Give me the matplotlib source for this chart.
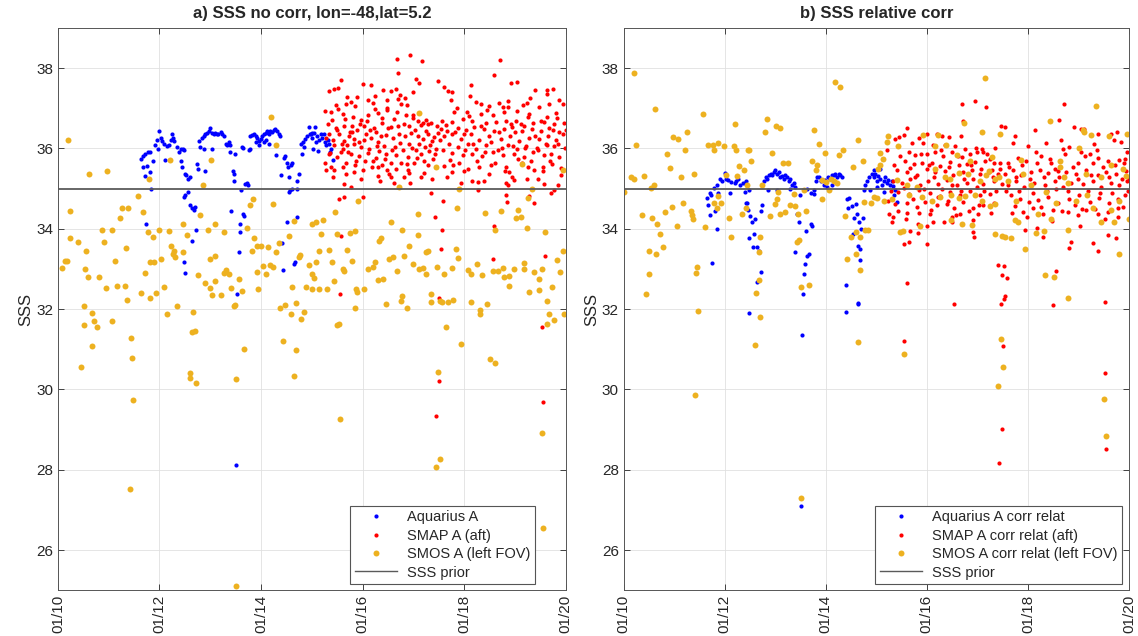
import pandas as pd
import matplotlib
matplotlib.use('Agg')
import matplotlib.pyplot as plt
import matplotlib.dates as mdates
from matplotlib.lines import Line2D

# (decimal year, SSS)
# ---- panel a) no corr
aquarius_a = [
    (2011.64,35.74),(2011.67,35.81),(2011.72,35.86),(2011.78,35.90),(2011.82,35.92),(2011.67,35.53),(2011.76,35.56),
    (2011.71,35.32),(2011.81,35.41),(2011.88,35.70),(2011.84,34.98),(2011.74,34.12),(2011.92,36.08),(2011.95,36.21),
    (2012.00,36.44),(2012.02,36.26),(2012.05,36.19),(2012.09,36.12),(2012.14,36.05),(2012.18,36.08),(2012.25,36.35),
    (2012.26,36.26),(2012.29,36.19),(2012.22,36.21),(2012.11,35.72),(2012.35,36.04),(2012.39,35.90),(2012.43,35.99),
    (2012.48,35.97),(2011.98,35.99),(2012.43,35.68),(2012.45,35.54),(2012.50,35.36),(2012.49,34.80),(2012.48,33.18),
    (2012.47,35.99),(2012.52,35.35),(2012.57,35.23),(2012.60,35.28),(2012.57,34.92),(2012.50,34.83),(2012.59,34.59),
    (2012.64,34.52),(2012.67,34.47),(2012.70,34.53),(2012.71,33.96),(2012.64,33.70),(2012.50,32.91),(2012.74,35.62),
    (2012.75,35.48),(2012.90,35.44),(2012.77,36.19),(2012.84,36.26),(2012.87,36.30),(2012.90,36.35),(2012.93,36.39),
    (2012.97,36.44),(2013.00,36.50),(2013.03,36.39),(2013.07,36.35),(2013.10,36.39),(2013.13,36.35),(2013.16,36.37),
    (2013.20,36.42),(2013.23,36.37),(2013.26,36.30),(2013.30,36.12),(2013.33,36.08),(2013.36,36.17),(2013.39,36.08),
    (2013.04,35.99),(2012.88,35.99),(2012.79,36.04),(2013.38,35.92),(2013.49,35.86),(2013.45,35.43),(2013.46,35.37),
    (2013.47,35.19),(2013.69,35.12),(2013.72,35.14),(2013.74,35.10),(2013.61,34.96),(2013.41,34.44),(2013.64,34.38),
    (2013.67,34.32),(2013.59,34.13),(2013.58,33.92),(2013.56,33.42),(2013.53,32.38),(2013.51,28.12),(2013.62,36.03),
    (2013.65,36.01),(2013.76,35.95),(2013.78,35.99),(2013.79,36.30),(2013.82,36.33),(2013.86,36.37),(2013.89,36.30),
    (2013.92,36.26),(2013.95,36.19),(2013.99,36.24),(2014.02,36.30),(2014.05,36.35),(2014.09,36.39),(2014.12,36.44),
    (2014.15,36.37),(2014.18,36.44),(2014.22,36.42),(2014.25,36.46),(2014.28,36.48),(2014.32,36.44),(2014.35,36.35),
    (2014.38,36.30),(2013.89,36.17),(2014.05,36.15),(2014.15,36.12),(2014.09,36.21),(2013.95,36.08),(2014.30,35.83),
    (2014.45,35.77),(2014.48,35.81),(2014.51,35.63),(2014.58,35.59),(2014.61,35.63),(2014.40,35.35),(2014.55,35.29),
    (2014.53,35.53),(2014.57,34.96),(2014.61,35.00),(2014.55,34.92),(2014.71,35.19),(2014.74,35.37),(2014.71,34.99),
    (2014.51,34.18),(2014.70,34.29),(2014.41,33.64),(2014.66,33.18),(2014.64,33.13),(2014.43,32.97),(2014.78,36.12),
    (2014.83,36.17),(2014.86,36.24),(2014.91,36.30),(2014.94,36.53),(2015.01,36.39),(2014.84,36.04),(2014.81,35.87),
    (2014.96,36.35),(2014.98,36.35),(2015.01,36.26),(2015.05,36.39),(2015.06,36.53),(2015.08,36.17),(2015.11,36.30),
    (2015.15,36.21),(2015.18,36.35),(2015.21,36.26),(2015.24,36.37),(2015.26,36.17),(2015.28,36.08),(2015.31,36.21),
    (2015.34,36.12),(2015.38,35.99),(2015.36,35.90),(2015.41,35.72),(2015.12,35.94),(2015.03,35.99),
]

smap_a = [
    (2016.68,38.24),(2016.94,38.33),(2017.16,38.18),(2016.70,37.88),(2017.05,37.73),(2017.12,37.63),(2017.49,37.67),
    (2015.57,37.71),(2015.44,37.49),(2015.34,37.44),(2015.51,37.51),(2016.00,37.60),(2016.16,37.58),(2016.41,37.46),
    (2016.56,37.44),(2016.66,37.49),(2016.74,37.33),(2015.69,37.29),(2015.90,37.27),(2016.10,37.20),(2016.20,37.13),
    (2015.67,37.11),(2015.47,37.08),(2015.77,37.16),(2016.49,37.20),(2016.70,37.24),(2016.84,37.26),(2016.76,37.11),
    (2016.88,37.08),(2015.26,36.93),(2015.38,36.90),(2015.61,36.86),(2015.82,36.79),(2015.97,36.71),(2016.11,36.84),
    (2016.30,36.88),(2016.49,36.96),(2016.68,36.92),(2016.86,36.83),(2016.99,36.75),(2017.09,36.69),(2017.25,36.72),
    (2017.28,36.62),(2017.18,36.63),(2016.70,36.57),(2016.56,36.54),(2016.39,36.63),(2016.23,36.51),(2016.03,36.57),
    (2015.90,36.46),(2015.76,36.42),(2015.63,36.57),(2015.47,36.51),(2015.34,36.37),(2015.28,36.26),(2015.41,36.21),
    (2015.54,36.35),(2015.64,36.19),(2015.74,36.30),(2015.84,36.24),(2015.93,36.17),(2016.07,36.35),(2016.16,36.26),
    (2016.26,36.41),(2016.36,36.30),(2016.46,36.33),(2016.59,36.26),(2016.72,36.37),(2016.84,36.31),(2016.95,36.39),
    (2017.09,36.30),(2017.18,36.24),(2017.28,36.35),(2017.40,36.28),(2017.48,36.39),(2015.44,36.08),(2015.61,35.99),
    (2015.70,36.08),(2015.84,36.10),(2015.97,36.04),(2016.13,35.99),(2016.30,36.15),(2016.43,36.06),(2016.63,36.04),
    (2016.79,35.97),(2016.92,36.10),(2017.05,35.95),(2017.22,36.04),(2017.32,36.08),(2017.45,35.99),(2015.57,35.90),
    (2015.77,35.86),(2015.93,35.81),(2016.10,35.88),(2016.26,35.77),(2016.46,35.86),(2016.66,35.83),(2016.89,35.79),
    (2017.15,35.86),(2017.38,35.74),(2015.26,35.63),(2015.38,35.54),(2015.67,35.65),(2015.87,35.68),(2016.20,35.68),
    (2016.39,35.59),(2016.56,35.65),(2016.76,35.63),(2017.02,35.63),(2017.28,35.59),(2015.28,35.46),(2015.44,35.47),
    (2015.67,35.37),(2015.84,35.41),(2016.00,35.46),(2016.30,35.54),(2016.49,35.46),(2016.89,35.46),(2016.52,35.37),
    (2015.64,35.12),(2015.77,35.05),(2015.97,35.23),(2016.30,35.32),(2016.56,35.29),(2016.92,35.38),(2016.94,35.13),
    (2017.15,35.28),(2015.54,34.75),(2015.64,34.80),(2016.00,34.80),(2017.35,34.90),(2015.58,33.82),(2015.56,32.37),
    (2017.44,29.34),(2017.51,30.20),(2017.43,34.29),(2017.57,33.97),(2017.55,33.50),(2017.50,32.27),(2018.58,34.08),
    (2018.56,33.25),(2019.59,33.32),(2019.54,31.55),(2019.56,29.68),
    (2015.31,36.62),(2015.36,35.88),(2015.40,36.70),(2015.49,35.78),(2015.52,36.98),(2015.59,36.12),(2015.66,36.74),
    (2015.72,35.92),(2015.79,36.55),(2015.86,35.60),(2015.95,36.60),(2016.02,36.20),(2016.05,35.70),(2016.14,36.47),
    (2016.18,35.55),(2016.24,36.99),(2016.28,36.05),(2016.33,35.93),(2016.38,36.77),(2016.44,35.73),(2016.51,36.50),
    (2016.58,35.97),(2016.61,36.73),(2016.65,35.50),(2016.74,36.14),(2016.81,36.62),(2016.87,35.62),(2016.91,36.55),
    (2016.97,36.02),(2017.00,36.83),(2017.04,36.45),(2017.07,35.77),(2017.11,36.12),(2017.14,36.58),(2017.20,35.70),
    (2017.24,36.44),(2017.30,35.93),(2017.34,36.63),(2017.37,36.18),(2017.42,35.85),(2017.46,36.55),(2015.33,35.85),
    (2015.42,35.30),(2015.50,36.46),(2015.62,35.55),(2015.80,36.42),(2016.08,36.68),(2016.35,35.20),(2016.62,35.15),
    (2016.82,35.30),(2017.20,35.40),(2017.36,35.25),(2016.48,37.00),(2015.85,37.05),(2017.00,37.40),(2016.25,37.30),
    (2018.71,38.20),(2018.59,37.84),(2018.14,37.58),(2018.92,37.63),(2019.04,37.66),(2017.61,37.54),(2017.69,37.44),
    (2017.76,37.40),(2019.40,37.45),(2019.63,37.46),(2019.76,37.49),(2017.74,37.20),(2018.24,37.15),(2018.34,37.11),
    (2018.69,37.13),(2018.76,37.04),(2018.87,37.18),(2018.86,37.02),(2019.16,37.08),(2019.23,37.13),(2019.48,37.04),
    (2019.64,37.35),(2019.68,37.11),(2019.82,36.88),(2019.95,37.11),(2017.80,36.90),(2018.05,36.92),(2018.33,36.86),
    (2018.56,36.84),(2018.79,36.90),(2019.05,36.94),(2019.25,36.79),(2019.64,36.79),(2019.84,36.77),(2017.57,36.69),
    (2017.77,36.66),(2017.97,36.73),(2018.16,36.69),(2018.43,36.63),(2018.63,36.66),(2018.82,36.69),(2019.02,36.69),
    (2019.18,36.57),(2019.36,36.63),(2019.58,36.66),(2019.78,36.62),(2019.97,36.63),(2017.54,36.48),(2017.67,36.44),
    (2017.87,36.51),(2018.03,36.46),(2018.20,36.53),(2018.39,36.48),(2018.59,36.44),(2018.79,36.48),(2018.95,36.53),
    (2019.15,36.44),(2019.34,36.48),(2019.51,36.44),(2019.68,36.51),(2019.88,36.42),(2020.00,36.46),(2017.60,36.30),
    (2017.77,36.35),(2017.93,36.24),(2018.13,36.35),(2018.30,36.21),(2018.49,36.30),(2018.72,36.24),(2018.90,36.30),
    (2019.09,36.19),(2019.28,36.26),(2019.48,36.24),(2019.61,36.12),(2019.81,36.21),(2019.95,36.35),(2017.70,36.10),
    (2017.87,36.04),(2018.07,36.12),(2018.23,35.99),(2018.43,36.08),(2018.66,35.95),(2018.86,36.08),(2019.05,35.99),
    (2019.22,36.06),(2019.43,36.01),(2019.64,36.08),(2019.78,36.06),(2017.77,35.88),(2017.97,35.83),(2018.16,35.86),
    (2018.36,35.81),(2018.56,35.90),(2018.76,35.83),(2018.99,35.86),(2019.18,35.79),(2019.35,35.90),(2019.58,35.83),
    (2019.71,35.86),(2019.88,35.79),(2017.61,35.56),(2017.78,35.59),(2018.07,35.50),(2018.30,35.54),(2018.53,35.59),
    (2018.82,35.54),(2019.15,35.63),(2019.25,35.54),(2019.55,35.53),(2019.74,35.62),(2019.91,35.52),(2017.77,35.41),
    (2018.00,35.44),(2018.49,35.37),(2018.89,35.41),(2019.38,35.47),(2017.93,35.13),(2018.16,35.19),(2018.28,35.17),
    (2018.82,35.14),(2018.86,35.10),(2018.99,35.21),(2019.23,35.23),(2019.58,35.12),(2019.78,34.96),(2018.28,34.96),
    (2018.82,34.85),(2018.84,34.67),(2019.38,34.63),(2019.28,34.81),(2019.72,34.90),(2017.59,34.70),
    (2017.52,36.20),(2017.58,35.95),(2017.64,36.58),(2017.72,35.72),(2017.82,36.40),(2017.90,35.65),(2017.99,36.35),
    (2018.02,35.95),(2018.10,36.80),(2018.18,36.10),(2018.26,35.70),(2018.33,36.55),(2018.41,35.90),(2018.46,36.95),
    (2018.52,36.15),(2018.61,35.65),(2018.68,36.40),(2018.74,36.02),(2018.80,35.45),(2018.92,36.62),(2018.97,36.05),
    (2019.01,36.40),(2019.07,35.75),(2019.12,36.60),(2019.20,36.00),(2019.27,36.85),(2019.31,35.68),(2019.40,36.30),
    (2019.46,35.95),(2019.52,36.68),(2019.56,35.45),(2019.66,36.32),(2019.70,35.70),(2019.75,36.45),(2019.85,36.10),
    (2019.90,35.35),(2019.98,36.00),(2017.66,35.30),(2018.40,35.20),(2018.95,35.30),(2019.45,35.25),(2019.85,35.10),
    (2018.12,37.30),(2019.30,37.25),(2019.88,37.20),(2017.85,37.00),(2018.50,37.05),
]

smos_a = [
    (2010.20,36.21),(2010.61,35.36),(2010.97,35.44),(2010.24,34.45),(2011.26,34.52),(2011.38,34.52),(2011.57,34.81),
    (2011.22,34.27),(2011.68,34.41),(2010.86,33.98),(2011.07,33.97),(2010.23,33.76),(2010.39,33.67),(2010.91,33.67),
    (2010.56,33.45),(2011.33,33.53),(2011.77,33.93),(2011.87,33.79),(2011.99,33.97),(2012.18,33.95),(2012.23,33.58),
    (2010.13,33.21),(2010.18,33.21),(2010.08,33.02),(2010.54,33.00),(2010.59,32.79),(2010.80,32.79),(2011.12,33.21),
    (2011.82,33.17),(2011.89,33.17),(2011.72,32.89),(2012.03,33.25),(2012.28,33.45),(2012.26,33.38),(2012.30,33.29),
    (2010.95,32.52),(2011.16,32.57),(2011.32,32.57),(2011.36,32.22),(2011.63,32.40),(2011.82,32.27),(2011.93,32.40),
    (2012.08,32.55),(2011.79,35.23),(2012.20,35.72),
    (2013.01,35.71),(2012.86,35.08),(2014.20,36.79),(2014.30,36.08),(2014.24,34.61),(2012.80,34.34),(2012.47,34.12),
    (2012.54,33.85),(2012.47,33.42),(2012.95,33.98),(2013.10,34.12),(2013.26,33.92),(2013.84,34.74),(2013.78,34.58),
    (2013.72,34.03),(2013.87,33.76),(2013.83,33.45),(2013.92,33.56),(2014.00,33.58),(2014.14,33.54),(2014.29,33.43),
    (2014.35,33.64),(2012.99,33.24),(2013.09,33.33),(2013.26,32.91),(2013.30,32.97),(2013.36,32.87),(2013.57,32.75),
    (2012.75,32.85),(2012.89,32.66),(2012.99,32.53),(2013.10,32.71),(2013.04,32.36),(2013.20,32.35),(2013.41,32.53),
    (2013.63,32.44),(2013.92,32.93),(2014.09,32.87),(2014.03,33.07),(2014.17,33.11),(2014.24,33.04),(2013.93,32.49),
    (2014.65,34.19),(2014.55,33.82),(2014.74,33.29),(2014.77,33.34),(2014.94,33.11),(2014.89,32.55),(2015.00,32.50),
    (2015.01,32.87),(2014.60,32.54),
    (2017.12,36.88),(2017.45,35.54),(2016.72,35.04),(2015.91,34.68),(2015.45,34.41),(2015.08,34.16),(2015.01,34.12),
    (2015.23,34.22),(2016.56,34.18),(2017.09,34.37),(2015.19,33.87),(2015.49,33.87),(2015.76,33.89),(2015.86,33.94),
    (2016.36,33.78),(2016.33,33.70),(2016.77,33.96),(2017.10,33.85),(2016.92,33.56),(2017.28,33.45),(2017.25,33.42),
    (2015.15,33.45),(2015.34,33.47),(2015.70,33.46),(2015.08,33.17),(2015.39,33.17),(2015.64,32.95),(2015.61,33.00),
    (2015.80,33.21),(2016.10,33.00),(2016.25,33.18),(2016.20,33.06),(2016.53,33.25),(2016.59,33.29),(2016.68,32.96),
    (2016.82,33.32),(2016.99,33.13),(2017.12,33.00),(2017.18,33.02),(2017.25,32.87),(2017.47,33.04),(2015.05,32.78),
    (2015.15,32.51),(2015.30,32.51),(2015.44,32.70),(2015.87,32.51),(2015.90,32.42),(2016.03,32.49),(2016.30,32.73),
    (2016.41,32.76),(2016.77,32.32),(2017.34,32.38),
    (2017.90,35.00),(2017.85,34.52),(2018.41,34.40),(2018.72,34.45),(2019.03,34.28),(2019.12,34.29),(2019.07,34.48),
    (2019.34,35.00),(2019.25,34.77),(2019.95,35.47),(2019.14,35.62),(2018.61,33.98),(2019.23,34.01),(2019.60,33.92),
    (2019.94,33.45),(2019.84,33.22),(2017.84,33.49),(2017.88,33.27),(2017.77,33.03),(2017.61,32.88),(2018.07,32.97),
    (2018.13,32.87),(2018.26,33.13),(2018.36,32.85),(2018.56,32.94),(2018.66,32.94),(2018.76,33.03),(2018.79,32.80),
    (2018.99,33.00),(2018.89,32.83),(2018.88,32.58),(2019.18,33.15),(2019.18,33.00),(2019.28,32.42),(2019.38,32.92),
    (2019.47,32.47),(2019.48,32.74),(2019.53,33.00),(2019.74,32.56),(2019.89,32.92),
    # lower values
    (2010.46,30.55),(2010.51,31.61),(2010.51,32.07),(2010.66,31.90),(2010.71,31.70),(2010.76,31.56),(2010.66,31.07),
    (2011.06,31.70),(2011.43,31.29),(2011.46,30.77),(2011.48,29.74),(2011.41,27.52),(2012.14,31.88),(2012.34,32.07),
    (2012.66,31.93),(2012.64,31.42),(2012.69,31.45),(2012.59,30.42),(2012.60,30.29),(2012.71,30.17),(2013.46,32.08),
    (2013.48,32.10),(2013.50,30.25),(2013.51,25.10),(2013.66,31.00),(2014.38,32.02),(2014.48,32.10),(2014.58,31.88),
    (2014.69,32.15),(2014.79,31.75),(2014.84,31.92),(2014.44,31.20),(2014.69,30.97),(2014.65,30.33),(2015.50,31.60),
    (2015.54,31.63),(2015.56,29.26),(2015.86,32.02),(2016.47,32.13),(2016.76,32.20),(2016.88,32.02),(2017.34,32.18),
    (2017.52,32.20),(2017.56,32.18),(2017.69,32.18),(2017.79,32.22),(2017.64,31.55),(2017.94,31.12),(2017.49,30.43),
    (2017.53,28.26),(2017.44,28.07),(2018.14,32.18),(2018.31,31.87),(2018.32,31.97),(2018.46,32.13),(2018.51,30.76),
    (2018.61,30.65),(2019.53,28.92),(2019.56,26.54),(2019.64,31.64),(2019.68,31.89),(2019.78,31.72),(2019.63,32.20),
    (2019.97,31.88),
]

# ---- panel b) relative corr
aquarius_b = [
    (2012.00,35.40),(2011.90,35.24),(2011.95,35.19),(2012.03,35.24),(2012.07,35.21),(2012.13,35.17),(2012.20,35.15),
    (2012.23,35.19),(2012.26,35.24),(2012.30,35.10),(2012.36,35.15),(2012.43,35.19),(2011.84,35.10),(2011.78,35.01),
    (2011.71,34.88),(2011.66,34.76),(2011.74,34.83),(2011.87,34.90),(2011.67,34.58),(2011.80,34.45),(2011.71,34.34),
    (2011.85,34.00),(2011.75,33.15),(2012.10,34.88),(2012.43,34.65),(2012.41,34.92),(2012.45,34.65),(2012.47,34.47),
    (2012.51,34.31),(2012.55,34.16),(2012.49,33.78),(2012.58,33.87),(2012.56,33.55),(2012.64,33.54),(2012.68,33.45),
    (2012.71,32.93),(2012.64,32.67),(2012.60,34.24),(2012.73,34.58),(2012.71,34.45),(2012.48,34.96),(2012.41,35.14),
    (2012.78,35.19),(2012.81,35.28),(2012.84,35.24),(2012.88,35.33),(2012.91,35.37),(2012.94,35.35),(2012.97,35.41),
    (2013.00,35.46),(2013.04,35.37),(2013.07,35.41),(2013.10,35.30),(2013.14,35.32),(2013.17,35.24),(2013.20,35.35),
    (2013.24,35.28),(2013.27,35.19),(2013.30,35.24),(2013.34,35.10),(2013.37,35.14),(2013.40,35.05),(2012.86,34.96),
    (2013.04,34.96),(2013.30,34.99),(2013.48,34.83),(2013.43,34.38),(2013.47,34.16),(2013.60,33.94),(2013.70,34.12),
    (2013.73,34.08),(2013.66,33.36),(2013.63,33.32),(2013.40,33.41),(2013.59,33.12),(2013.57,32.88),(2013.55,32.38),
    (2013.63,35.00),(2013.70,34.89),(2013.76,34.96),(2013.80,35.19),(2013.83,35.28),(2013.86,35.30),(2013.91,35.19),
    (2013.96,35.10),(2013.99,35.21),(2014.05,35.28),(2014.09,35.24),(2014.13,35.33),(2014.16,35.35),(2014.19,35.37),
    (2014.22,35.28),(2014.26,35.37),(2014.29,35.35),(2014.32,35.28),(2014.13,35.10),(2014.03,35.05),(2013.76,34.87),
    (2014.42,34.74),(2014.47,34.76),(2014.45,34.52),(2014.52,34.57),(2014.59,34.62),(2014.55,34.26),(2014.62,34.38),
    (2014.73,34.28),(2014.65,34.17),(2014.70,33.99),(2014.60,33.93),(2014.53,33.88),(2014.64,33.57),(2014.68,33.50),
    (2014.68,33.23),(2014.41,32.61),(2014.78,35.10),(2014.81,35.19),(2014.86,35.28),(2014.91,35.37),(2014.95,35.46),
    (2014.88,34.96),(2014.75,34.96),(2012.48,31.90),(2013.52,31.35),(2013.50,27.09),(2014.41,31.94),(2014.63,32.12),
    (2014.64,32.16),(2014.95,35.28),(2014.98,35.37),(2015.01,35.19),(2015.04,35.32),(2015.08,35.24),(2015.11,35.10),
    (2015.15,35.19),(2015.18,35.28),(2015.21,35.14),(2015.24,35.21),(2015.28,35.10),(2015.31,35.19),(2015.34,35.06),
    (2015.38,34.96),(2015.41,34.67),(2015.36,34.83),(2015.08,35.50),(2015.15,34.92),(2015.01,35.03),
]

smap_b = [
    (2016.69,37.11),(2016.95,37.18),(2017.17,37.04),(2015.61,36.52),(2015.54,36.33),(2015.38,36.24),(2015.46,36.28),
    (2016.01,36.37),(2016.20,36.37),(2016.43,36.28),(2016.67,36.30),(2016.71,36.68),(2017.09,35.99),(2017.25,35.75),
    (2016.97,36.01),(2017.28,35.46),(2015.70,36.14),(2015.93,36.13),(2016.13,36.08),(2016.36,36.08),(2016.56,36.06),
    (2016.76,35.99),(2015.21,35.95),(2015.64,35.90),(2015.77,35.84),(2016.00,35.86),(2016.16,35.92),(2016.33,35.81),
    (2016.49,35.92),(2016.69,35.79),(2016.86,35.86),(2017.12,35.90),(2015.57,35.68),(2015.74,35.61),(2015.90,35.65),
    (2016.10,35.63),(2016.26,35.57),(2016.46,35.66),(2016.63,35.59),(2016.79,35.61),(2016.95,35.67),(2017.15,35.68),
    (2017.32,35.63),(2017.45,35.65),(2015.41,35.46),(2015.61,35.41),(2015.80,35.35),(2016.00,35.48),(2016.16,35.41),
    (2016.36,35.44),(2016.52,35.35),(2016.72,35.41),(2016.89,35.47),(2017.05,35.37),(2017.22,35.42),(2017.41,35.36),
    (2015.34,35.19),(2015.51,35.15),(2015.67,35.23),(2015.87,35.10),(2016.03,35.19),(2016.23,35.12),(2016.39,35.21),
    (2016.59,35.08),(2016.79,35.14),(2016.92,35.24),(2017.12,35.12),(2017.32,35.19),(2017.48,35.12),(2015.44,34.92),
    (2015.64,34.87),(2015.84,34.96),(2016.07,34.90),(2016.26,34.81),(2016.46,34.92),(2016.66,34.85),(2016.86,34.93),
    (2017.05,34.83),(2017.25,34.87),(2015.24,34.70),(2015.38,34.61),(2015.61,34.65),(2015.80,34.55),(2015.97,34.66),
    (2016.20,34.59),(2016.39,34.61),(2016.53,34.51),(2016.72,34.67),(2016.92,34.52),(2017.12,34.58),(2017.32,34.63),
    (2015.26,34.38),(2015.34,34.29),(2015.31,34.16),(2015.61,34.40),(2016.07,34.37),(2016.34,34.16),(2016.49,34.29),
    (2016.66,34.38),(2016.92,34.21),(2017.02,34.38),(2015.67,33.94),(2015.82,34.13),(2016.00,34.07),(2016.12,34.16),
    (2015.82,33.90),(2015.64,33.68),(2015.54,33.61),(2016.00,33.62),(2016.49,34.16),(2016.94,33.80),(2016.92,33.93),
    (2017.41,33.09),(2015.60,32.65),(2015.54,31.20),(2016.53,32.13),(2017.47,32.12),(2017.52,32.26),(2017.51,31.09),
    (2017.49,29.02),(2017.42,28.17),(2018.50,32.09),(2019.52,32.17),(2019.52,30.40),(2019.54,28.51),
    (2015.29,34.95),(2015.36,35.58),(2015.43,34.45),(2015.48,35.80),(2015.55,35.02),(2015.59,34.25),(2015.66,35.52),
    (2015.72,34.75),(2015.76,35.30),(2015.85,34.40),(2015.89,35.85),(2015.95,34.98),(2016.04,35.60),(2016.09,34.48),
    (2016.14,35.30),(2016.22,34.80),(2016.28,35.95),(2016.31,35.00),(2016.41,34.70),(2016.44,35.55),(2016.50,35.10),
    (2016.57,34.35),(2016.61,35.80),(2016.68,34.95),(2016.74,35.25),(2016.83,34.45),(2016.88,35.60),(2016.99,35.05),
    (2017.03,34.60),(2017.08,35.50),(2017.14,34.95),(2017.19,35.85),(2017.27,34.40),(2017.30,35.30),(2017.37,34.95),
    (2017.44,35.50),(2016.30,36.30),(2015.85,36.25),(2017.35,36.00),(2017.00,35.90),
    (2018.72,37.11),(2018.61,36.72),(2018.15,36.46),(2018.92,36.53),(2019.05,36.48),(2019.12,36.48),(2019.39,36.35),
    (2019.64,36.35),(2019.76,36.40),(2019.70,36.21),(2019.96,35.90),(2017.74,36.30),(2017.71,36.13),(2017.54,36.53),
    (2017.47,36.57),(2018.16,35.90),(2018.36,36.13),(2018.46,35.63),(2018.69,35.99),(2018.82,36.04),(2019.05,35.90),
    (2019.22,35.86),(2019.38,35.77),(2019.58,35.68),(2019.81,35.72),(2019.91,35.63),(2017.61,35.63),(2017.80,35.77),
    (2017.97,35.70),(2018.26,35.81),(2018.53,35.50),(2018.99,35.63),(2019.28,35.65),(2017.54,35.37),(2017.70,35.46),
    (2017.87,35.33),(2018.07,35.41),(2018.23,35.47),(2018.39,35.39),(2018.59,35.44),(2018.76,35.41),(2018.95,35.36),
    (2019.15,35.46),(2019.38,35.35),(2019.55,35.42),(2019.74,35.37),(2019.94,35.45),(2020.00,35.23),(2017.61,35.10),
    (2017.77,35.19),(2017.93,35.04),(2018.13,35.14),(2018.33,35.09),(2018.53,35.20),(2018.69,35.05),(2018.86,35.14),
    (2019.09,35.11),(2019.28,35.19),(2019.45,35.04),(2019.64,35.14),(2019.81,35.10),(2019.97,35.19),(2017.67,34.83),
    (2017.84,34.74),(2018.03,34.67),(2018.20,34.71),(2018.39,34.79),(2018.59,34.65),(2018.82,34.74),(2019.02,34.83),
    (2019.22,34.67),(2019.41,34.76),(2019.61,34.63),(2019.78,34.74),(2019.92,34.83),(2017.74,34.56),(2017.90,34.43),
    (2018.10,34.52),(2018.30,34.38),(2018.49,34.47),(2018.79,34.43),(2018.99,34.34),(2019.15,34.47),(2019.38,34.38),
    (2019.58,34.43),(2019.78,34.52),(2017.95,33.98),(2018.18,34.03),(2018.30,33.80),(2018.86,33.67),(2018.82,33.51),
    (2019.28,33.65),(2019.38,33.45),(2019.58,33.85),(2019.74,33.76),(2019.04,34.07),(2017.58,32.78),(2017.55,32.33),
    (2018.56,32.95),(2017.52,33.08),(2017.49,32.84),
    (2017.56,34.95),(2017.63,35.55),(2017.69,34.40),(2017.76,35.30),(2017.82,34.95),(2017.89,35.60),(2017.99,34.30),
    (2018.05,35.25),(2018.11,34.90),(2018.19,35.65),(2018.25,34.55),(2018.31,35.30),(2018.37,34.95),(2018.43,35.75),
    (2018.47,34.20),(2018.55,35.00),(2018.62,35.30),(2018.67,34.45),(2018.73,35.85),(2018.80,34.95),(2018.89,35.55),
    (2018.93,34.60),(2019.00,35.25),(2019.07,34.50),(2019.13,35.80),(2019.19,34.95),(2019.25,35.35),(2019.32,34.50),
    (2019.36,35.95),(2019.43,34.90),(2019.49,35.55),(2019.53,34.25),(2019.60,35.30),(2019.67,34.90),(2019.72,35.60),
    (2019.79,34.30),(2019.86,35.25),(2019.89,34.55),(2019.93,35.75),(2019.99,34.95),(2018.00,36.05),(2018.65,36.20),
    (2019.30,36.10),(2019.85,36.15),
]

smos_b = [
    (2010.20,37.88),(2010.62,36.99),(2011.57,36.86),(2012.20,36.60),(2011.26,36.41),(2010.98,36.29),(2011.08,36.24),
    (2010.24,36.08),(2011.67,36.08),(2011.77,36.08),(2011.86,36.13),(2011.99,36.06),(2012.18,36.05),(2012.23,35.95),
    (2011.21,35.96),(2010.86,35.86),(2011.78,35.95),(2012.46,35.95),(2010.91,35.52),(2012.28,35.57),(2012.39,35.46),
    (2010.14,35.28),(2010.20,35.25),(2010.41,35.32),(2011.13,35.30),(2011.39,35.37),(2012.03,35.34),(2012.25,35.32),
    (2010.55,35.01),(2010.61,35.08),(2010.01,34.92),(2011.18,34.65),(2010.96,34.55),(2010.82,34.43),(2010.57,34.28),
    (2010.36,34.34),(2010.66,34.12),(2010.72,33.88),(2011.06,34.08),(2011.33,34.45),(2011.36,34.34),(2011.38,34.25),
    (2011.62,34.05),(2011.87,34.81),(2011.78,34.65),(2011.93,34.65),(2011.84,34.52),(2012.09,34.28),(2012.13,33.80),
    (2012.34,34.37),(2012.43,34.52),(2010.77,33.55),(2010.50,33.45),(2010.65,33.36),(2010.50,32.88),(2010.45,32.38),
    (2011.46,33.06),(2011.43,32.91),
    (2014.19,37.66),(2014.29,37.53),(2012.84,36.73),(2012.80,36.41),(2013.01,36.57),(2013.09,36.50),(2013.76,36.46),
    (2013.86,36.10),(2013.98,35.88),(2014.34,35.97),(2014.27,35.83),(2014.63,36.22),(2014.73,35.70),(2012.49,35.96),
    (2012.53,35.70),(2012.94,35.88),(2013.16,35.63),(2013.26,35.63),(2013.72,35.70),(2013.83,35.59),(2013.81,35.46),
    (2014.53,35.53),(2012.45,35.10),(2012.74,35.10),(2013.06,34.92),(2013.04,34.74),(2012.99,34.61),(2012.89,34.32),
    (2013.10,34.38),(2013.20,34.43),(2013.30,34.59),(2013.40,34.56),(2013.45,34.38),(2013.61,34.45),(2013.57,34.96),
    (2013.37,34.87),(2013.93,34.74),(2013.92,35.21),(2014.01,35.17),(2014.11,35.24),(2014.22,35.14),(2014.16,35.19),
    (2014.07,34.96),(2014.39,34.31),(2014.49,33.79),(2014.59,33.91),(2014.68,33.79),(2014.75,34.67),(2014.90,34.63),
    (2014.95,34.79),(2014.78,33.98),(2014.84,33.98),(2012.70,33.79),(2012.67,33.42),(2012.67,32.73),(2012.61,32.40),
    (2013.43,33.67),(2013.47,33.71),(2014.59,33.36),(2014.68,32.98),(2014.43,33.24),(2013.50,32.55),(2013.66,32.61),
    (2011.47,31.95),(2011.41,29.87),(2012.60,31.11),(2012.69,31.81),(2013.51,27.29),(2014.63,31.18),(2015.54,30.89),
    (2017.47,31.26),(2017.51,30.55),(2017.41,30.09),(2018.80,32.27),(2019.51,29.76),(2019.54,28.83),
    (2017.15,37.76),(2016.74,36.63),(2017.09,36.41),(2017.45,36.37),(2016.23,36.33),(2015.92,36.33),(2015.24,36.30),
    (2015.21,36.17),(2015.08,35.88),(2015.13,35.75),(2015.44,36.06),(2016.16,36.06),(2016.38,36.08),(2016.59,35.84),
    (2016.86,35.68),(2017.28,35.79),(2017.22,35.43),(2017.18,35.34),(2015.07,35.59),(2015.03,35.50),(2015.41,35.21),
    (2015.61,35.10),(2015.80,35.05),(2016.16,35.50),(2016.36,35.28),(2016.45,35.23),(2016.64,35.38),(2016.82,35.37),
    (2017.05,35.19),(2017.35,35.23),(2017.43,35.28),(2015.01,34.76),(2015.16,34.70),(2015.31,34.74),(2015.64,34.83),
    (2015.90,34.79),(2016.10,34.70),(2016.26,34.79),(2016.47,34.85),(2016.63,34.76),(2016.76,34.81),(2016.95,34.83),
    (2017.09,34.70),(2017.25,34.56),(2017.35,34.61),(2015.53,33.94),(2015.47,33.91),(2015.87,34.07),(2016.47,34.22),
    (2016.69,34.12),(2016.89,34.09),(2017.35,33.87),(2017.48,33.82),
    (2019.35,37.05),(2018.43,36.68),(2019.12,36.42),(2019.09,36.45),(2019.25,36.33),(2019.96,36.35),(2019.61,36.30),
    (2019.02,36.00),(2018.63,35.68),(2017.86,35.72),(2017.90,35.37),(2018.07,35.10),(2018.36,34.92),(2018.63,35.54),
    (2018.72,35.28),(2018.79,35.14),(2019.15,35.37),(2019.45,35.28),(2019.64,35.59),(2019.88,35.50),(2019.95,35.32),
    (2017.61,35.19),(2017.77,34.70),(2017.80,34.16),(2017.74,34.21),(2018.20,34.38),(2018.46,34.25),(2018.56,34.65),
    (2018.95,34.70),(2019.18,34.85),(2019.45,34.16),(2019.64,34.47),(2019.81,34.70),(2020.01,34.25),(2019.28,34.52),
    (2019.71,34.16),(2017.54,33.80),(2017.66,33.78),(2017.95,33.49),(2018.16,33.89),(2018.32,33.94),(2018.79,33.98),
    (2019.81,33.38),(2018.33,32.84),(2018.51,32.80),
]

sss_prior = 35.0
titles = ['a) SSS no corr, lon=-48,lat=5.2', 'b) SSS relative corr']
labels_a = ['Aquarius A', 'SMAP A (aft)', 'SMOS A (left FOV)', 'SSS prior']
labels_b = ['Aquarius A corr relat', 'SMAP A corr relat (aft)', 'SMOS A corr relat (left FOV)', 'SSS prior']


def to_dates(pairs):
    out = []
    for y, _ in pairs:
        yr = int(y)
        t0 = pd.Timestamp(yr, 1, 1)
        t1 = pd.Timestamp(yr + 1, 1, 1)
        out.append(t0 + (t1 - t0) * (y - yr))
    return out


def vals(pairs):
    return [v for _, v in pairs]


plt.rcParams['font.family'] = ['Liberation Sans', 'DejaVu Sans']
fig = plt.figure(figsize=(11.38, 6.36), dpi=100)
ax1 = fig.add_axes([0.051, 0.072, 0.446, 0.884])
ax2 = fig.add_axes([0.548, 0.072, 0.444, 0.884])

c_aq, c_smap, c_smos = '#0000ff', '#ff0000', '#edb120'
txt = '#262626'

panels = [
    (ax1, aquarius_a, smap_a, smos_a, labels_a, titles[0], (0.945, 0.006)),
    (ax2, aquarius_b, smap_b, smos_b, labels_b, titles[1], (0.992, 0.006)),
]
for ax, aq, sm, so, labs, title, anchor in panels:
    ax.plot(to_dates(aq), vals(aq), 'o', ms=3.0, mec='none', color=c_aq)
    ax.plot(to_dates(sm), vals(sm), 'o', ms=3.0, mec='none', color=c_smap)
    ax.plot(to_dates(so), vals(so), 'o', ms=4.3, mec='none', color=c_smos)
    ax.axhline(sss_prior, color='#5a5a5a', lw=1.3)

    ax.set_xlim(pd.Timestamp('2010-01-01'), pd.Timestamp('2020-01-01'))
    ax.set_ylim(25, 39)
    ax.set_yticks(range(26, 39, 2))
    ax.xaxis.set_major_locator(mdates.YearLocator(2))
    ax.xaxis.set_major_formatter(mdates.DateFormatter('%m/%y'))
    ax.tick_params(axis='x', labelrotation=90)
    ax.tick_params(direction='in', top=True, right=True, length=4, width=0.6,
                   colors=txt, labelsize=11, labelcolor=txt)
    ax.grid(True, color='#e0e0e0', lw=0.6)
    ax.set_axisbelow(True)
    for s in ax.spines.values():
        s.set_color('#555555')
        s.set_linewidth(0.7)
    ax.set_ylabel('SSS', fontsize=12, color=txt, labelpad=2)
    ax.set_title(title, fontsize=12, fontweight='bold', color=txt, pad=7)

    handles = [
        Line2D([], [], ls='none', marker='o', ms=3.0, mec='none', color=c_aq),
        Line2D([], [], ls='none', marker='o', ms=3.0, mec='none', color=c_smap),
        Line2D([], [], ls='none', marker='o', ms=4.3, mec='none', color=c_smos),
        Line2D([], [], color='#5a5a5a', lw=1.0),
    ]
    leg = ax.legend(handles, labs, loc='lower right', bbox_to_anchor=anchor,
                    fontsize=10.5, handlelength=2.9, handletextpad=0.7,
                    borderpad=0.3, labelspacing=0.3, fancybox=False,
                    framealpha=1, edgecolor='#555555', borderaxespad=0.2)
    leg.get_frame().set_linewidth(0.8)
    for t in leg.get_texts():
        t.set_color(txt)

fig.savefig('out.png', dpi=100)
